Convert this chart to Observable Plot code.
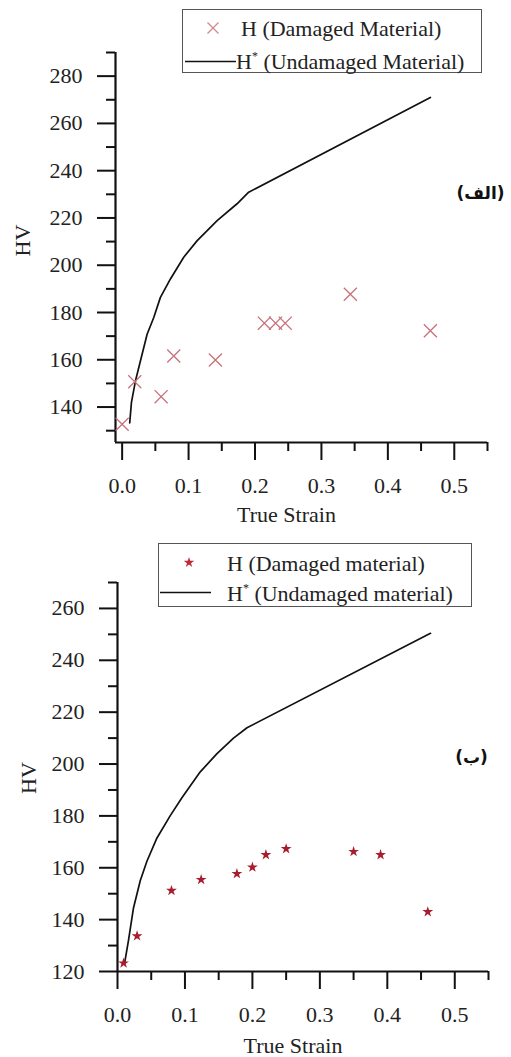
<!DOCTYPE html>
<html>
<head>
<meta charset="utf-8">
<script src="https://cdn.jsdelivr.net/npm/d3@7"></script>
<script src="https://cdn.jsdelivr.net/npm/@observablehq/plot@0.6"></script>
<style>
  body { margin: 0; background: #fff; }
  #root { position: relative; width: 511px; height: 1057px; overflow: hidden; background: #fff;
          font-family: "Liberation Serif", "Times New Roman", serif; color: #222; }
  .panel { position: absolute; left: 0; }
  .legend { position: absolute; border: 1.5px solid #555; background: #fff; box-sizing: border-box; }
  .legend .txt { position: absolute; font-size: 22px; line-height: 24px; white-space: nowrap; color: #222; }
  .legend svg { position: absolute; left: 0; top: 0; overflow: visible; }
  sup { font-size: 12px; vertical-align: 9px; line-height: 0; }
</style>
</head>
<body>
<div id="root"></div>
<script>
// ---------- Data ----------
// Panel (الف): damaged material hardness (crosses)
const strainA = [0.0, 0.019, 0.0587, 0.0777, 0.1404, 0.2141, 0.231, 0.2455, 0.3435, 0.464];
const hvA     = [132.7, 150.7, 144.4, 161.6, 159.9, 175.5, 175.5, 175.5, 187.7, 172.3];
// Panel (الف): undamaged material curve
const curveStrainA = [0.0114, 0.014, 0.02, 0.0275, 0.0376, 0.0476, 0.0576, 0.0727, 0.0927, 0.113, 0.143, 0.173, 0.1905, 0.464];
const curveHvA     = [133.3, 142, 151, 159.5, 170.8, 177.9, 186.4, 194.2, 203.4, 210.4, 218.9, 226, 230.9, 271];
// Panel (ب): damaged material hardness (stars)
const strainB = [0.009, 0.029, 0.08, 0.124, 0.177, 0.2, 0.22, 0.25, 0.35, 0.39, 0.46];
const hvB     = [123.2, 133.7, 151.2, 155.4, 157.7, 160.2, 165.0, 167.3, 166.2, 165.0, 143.0];
// Panel (ب): undamaged material curve
const curveStrainB = [0.0104, 0.0163, 0.0237, 0.0337, 0.0436, 0.0585, 0.078, 0.0955, 0.113, 0.1227, 0.1475, 0.172, 0.192, 0.464];
const curveHvB     = [123.0, 132.0, 144.5, 155.0, 162.5, 171.5, 180.0, 187.0, 193.5, 197.0, 204.0, 210.0, 214.0, 250.4];

// Ticks
const xMajor = [0, 0.1, 0.2, 0.3, 0.4, 0.5];
const xMinor = [0.05, 0.15, 0.25, 0.35, 0.45, 0.55];
const yMajorA = [140, 160, 180, 200, 220, 240, 260, 280];
const yMinorA = [130, 150, 170, 190, 210, 230, 250, 270, 290];
const yMajorB = [120, 140, 160, 180, 200, 220, 240, 260];
const yMinorB = [130, 150, 170, 190, 210, 230, 250, 270];

const xLabel = "True Strain";
const yLabel = "HV";
const tagA = "(الف)";
const tagB = "(ب)";

// ---------- Build ----------
const zip = (xs, ys) => xs.map((x, i) => ({x, y: ys[i]}));
const fmt = d3.format(".1f");

function panel(o) {
  return Plot.plot({
    width: 511,
    height: o.height,
    marginLeft: o.ml, marginRight: o.mr, marginTop: o.mt, marginBottom: o.mb,
    style: {fontFamily: '"Liberation Serif", "Times New Roman", serif', fontSize: "22px", color: "#111", background: "transparent", overflow: "visible"},
    x: {domain: o.xDomain, label: null},
    y: {domain: o.yDomain, label: null},
    marks: [
      Plot.axisY(o.yMinor, {tickSize: 9, strokeWidth: 2, tickFormat: () => "", label: null}),
      Plot.axisY(o.yMajor, {tickSize: 18, tickPadding: 15, strokeWidth: 2, fontSize: 22, fill: "#222", label: null}),
      Plot.axisX(xMinor, {tickSize: 9, strokeWidth: 2, tickFormat: () => "", label: null}),
      Plot.axisX(xMajor, {tickSize: 18, tickPadding: 17, strokeWidth: 2, fontSize: 22, fill: "#222", tickFormat: fmt, label: null}),
      Plot.ruleX([o.xDomain[0]], {stroke: "#111", strokeWidth: 2.2}),
      Plot.ruleY([o.yDomain[0]], {stroke: "#111", strokeWidth: 2.2}),
      Plot.line(o.curve, {x: "x", y: "y", stroke: "#111", strokeWidth: 1.7}),
      o.pointsMark,
      Plot.text([xLabel], {text: d => d, frameAnchor: "bottom", textAnchor: "middle", lineAnchor: "middle", dx: o.xlDx, dy: o.xlDy, fontSize: 22, fill: "#222"}),
      Plot.text([yLabel], {text: d => d, frameAnchor: "left", textAnchor: "middle", lineAnchor: "middle", rotate: -90, dx: o.ylDx, dy: o.ylDy, fontSize: 22, fill: "#222"}),
      Plot.text([o.tag], {text: d => d, frameAnchor: "top-right", textAnchor: "middle", lineAnchor: "middle", dx: o.tagDx, dy: o.tagDy, fontFamily: '"DejaVu Sans", sans-serif', fontWeight: "bold", fontSize: 17, fill: "#111"})
    ]
  });
}

const root = document.getElementById("root");

const topPanel = panel({
  height: 530, ml: 115, mr: 24, mt: 52, mb: 88,
  xDomain: [-0.01, 0.55], yDomain: [125, 290],
  yMajor: yMajorA, yMinor: yMinorA,
  curve: zip(curveStrainA, curveHvA),
  pointsMark: Plot.dot(zip(strainA, hvA), {x: "x", y: "y", symbol: "times", r: 6, stroke: "#c8727a", strokeWidth: 1.3}),
  xlDx: -15, xlDy: 72, ylDx: -93, ylDy: -7,
  tag: tagA, tagDx: -7, tagDy: 141
});
topPanel.classList.add("panel");
topPanel.style.top = "0px";
root.appendChild(topPanel);

const bottomPanel = panel({
  height: 527, ml: 117, mr: 23, mt: 52, mb: 86,
  xDomain: [0, 0.55], yDomain: [120, 270],
  yMajor: yMajorB, yMinor: yMinorB,
  curve: zip(curveStrainB, curveHvB),
  pointsMark: Plot.dot(zip(strainB, hvB), {x: "x", y: "y", symbol: "star", r: 3.4, fill: "#a81c2c", stroke: "none"}),
  xlDx: -10, xlDy: 74, ylDx: -89, ylDy: 1,
  tag: tagB, tagDx: -17, tagDy: 175
});
bottomPanel.classList.add("panel");
bottomPanel.style.top = "530px";
root.appendChild(bottomPanel);

// ---------- Legends ----------
function legend({left, top, width, height, symbolSvg, rows}) {
  const div = document.createElement("div");
  div.className = "legend";
  Object.assign(div.style, {left: left + "px", top: top + "px", width: width + "px", height: height + "px"});
  div.innerHTML = symbolSvg + rows.map(r => `<div class="txt" style="left:${r.x}px;top:${r.cy - 12}px">${r.html}</div>`).join("");
  root.appendChild(div);
}

const nameDamA = "H (Damaged Material)";
const nameUndA = "H<sup>*</sup> (Undamaged Material)";
const nameDamB = "H (Damaged material)";
const nameUndB = "H<sup>*</sup> (Undamaged material)";

legend({
  left: 182, top: 9, width: 300, height: 64,
  symbolSvg: `<svg width="300" height="64">
      <path d="M24.5,12.5L35.5,23.5M35.5,12.5L24.5,23.5" stroke="#d08a8e" stroke-width="1.3" fill="none"/>
      <line x1="2" x2="53" y1="51.5" y2="51.5" stroke="#111" stroke-width="1.6"/>
    </svg>`,
  rows: [{x: 58, cy: 18.5, html: nameDamA}, {x: 53, cy: 51.5, html: nameUndA}]
});

legend({
  left: 158, top: 543, width: 314, height: 64,
  symbolSvg: `<svg width="314" height="64">
      <path transform="translate(30,18.5)" d="${d3.symbol(d3.symbolStar, 34)()}" fill="#c0283a"/>
      <line x1="1" x2="52" y1="48.5" y2="48.5" stroke="#111" stroke-width="1.3"/>
    </svg>`,
  rows: [{x: 68, cy: 19.5, html: nameDamB}, {x: 68, cy: 49.5, html: nameUndB}]
});
</script>
</body>
</html>
